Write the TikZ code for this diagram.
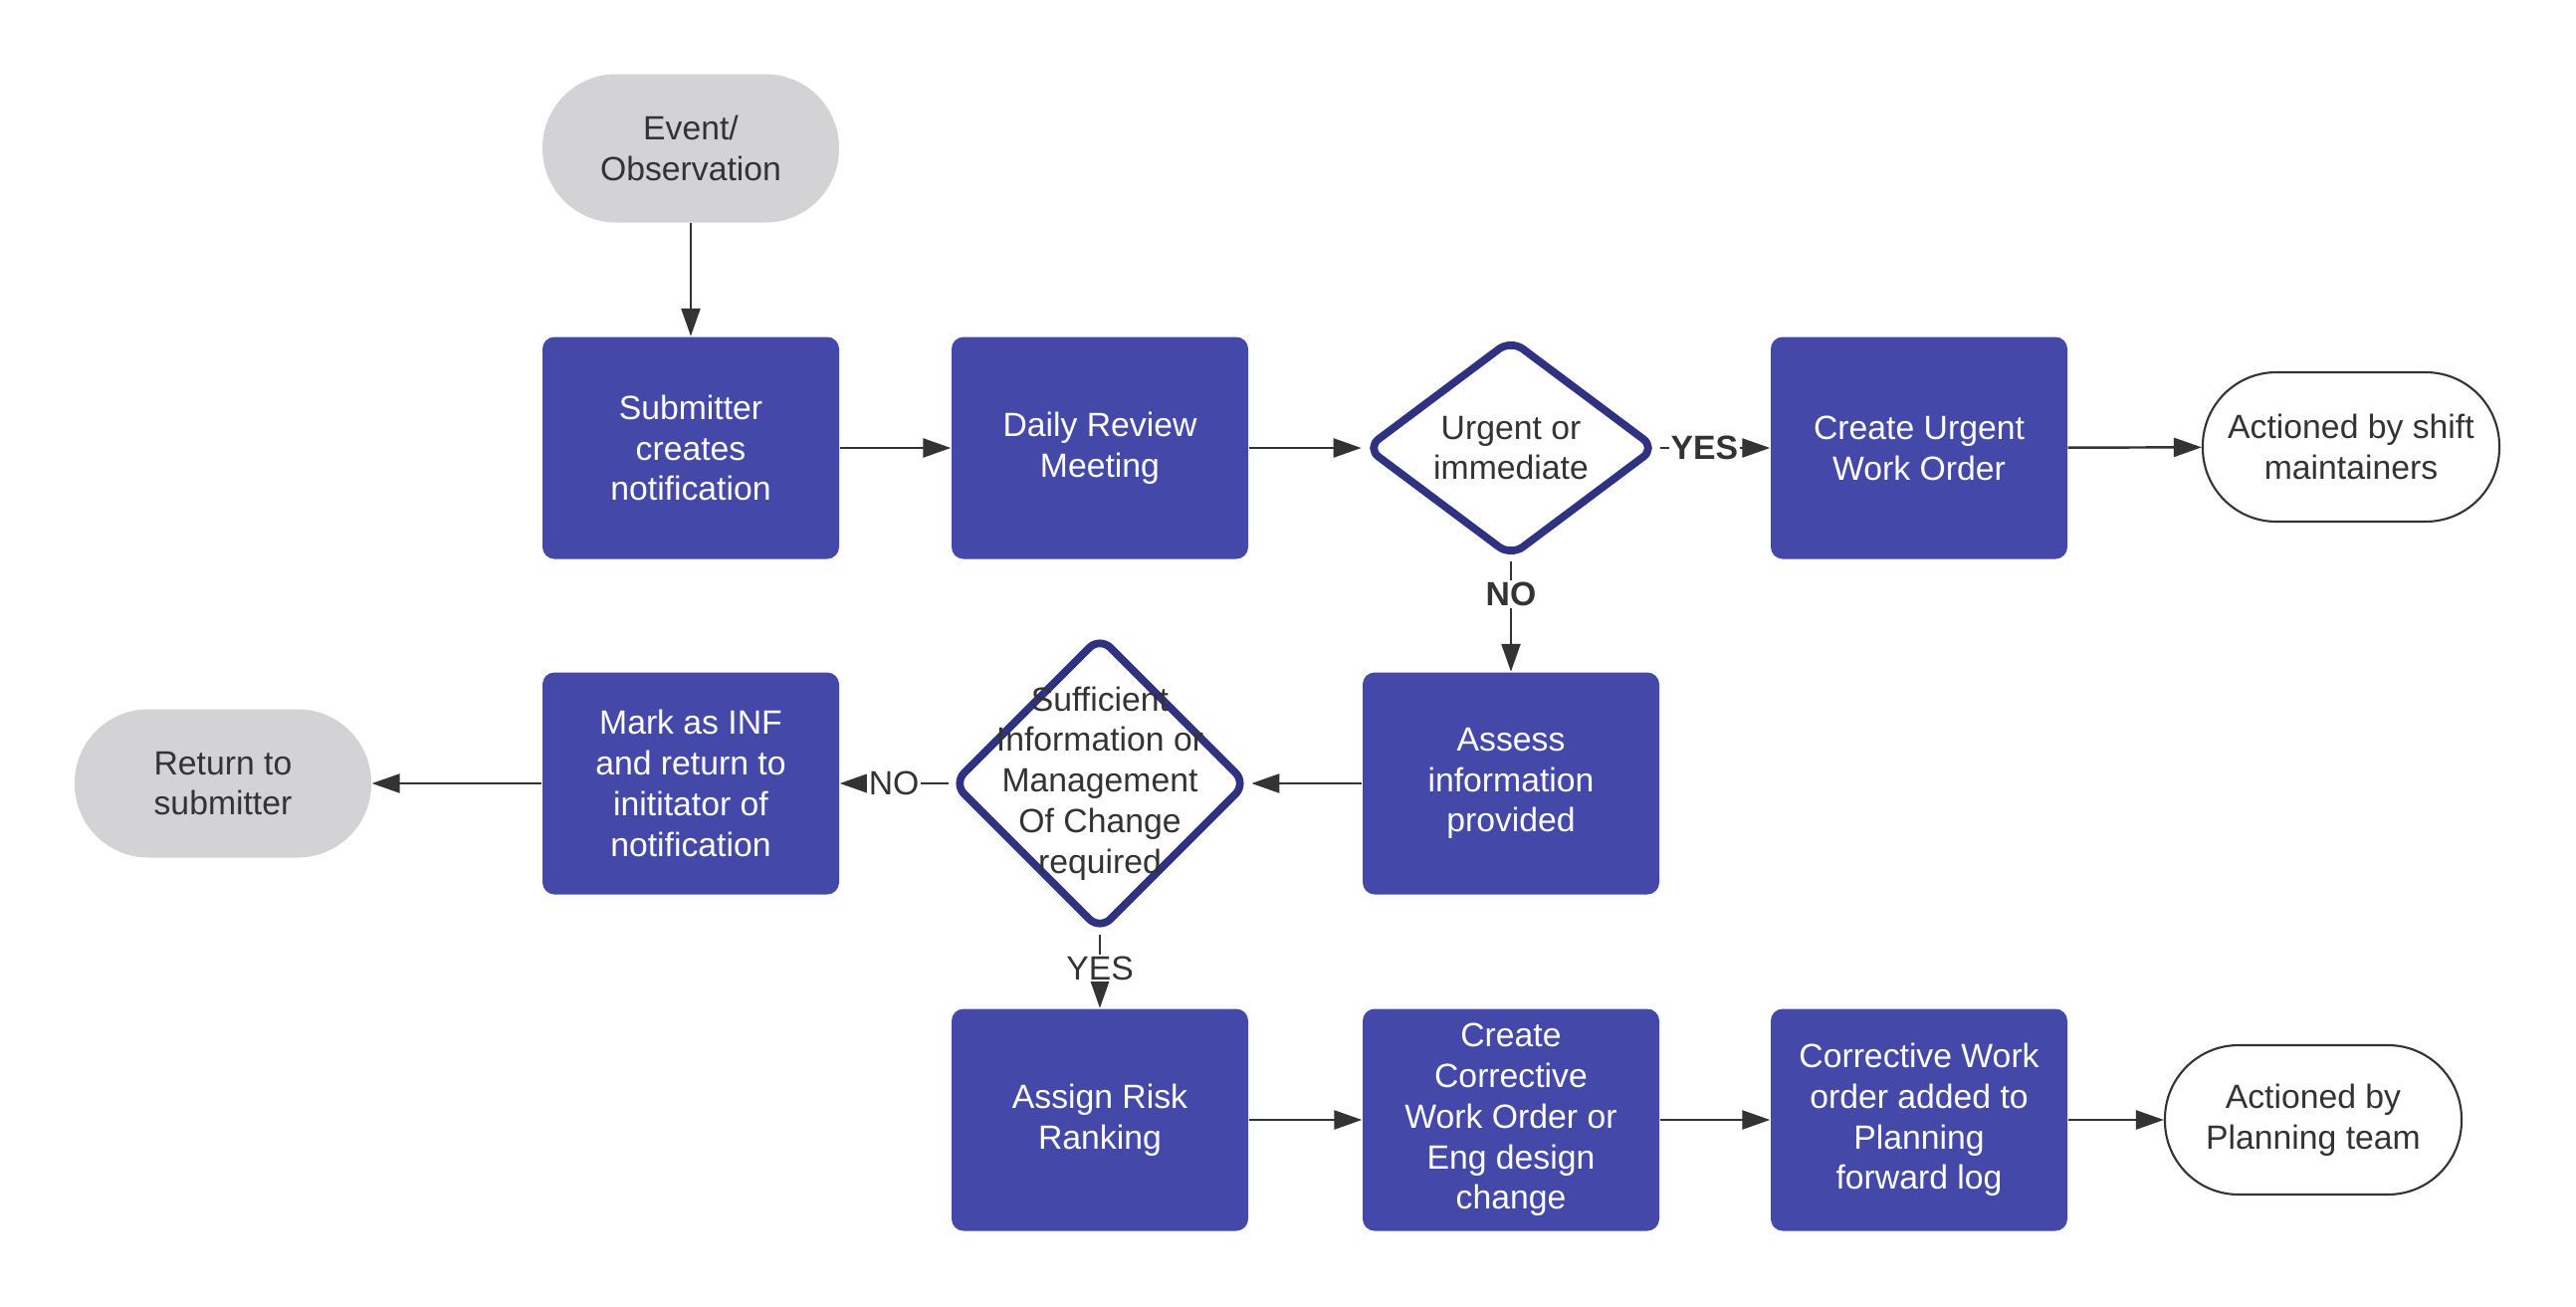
\documentclass[tikz,border=0pt]{standalone}
\usepackage{fontspec}
\setmainfont{Liberation Sans}
\usetikzlibrary{shapes.geometric,arrows.meta}

\definecolor{boxblue}{RGB}{68,72,168}
\definecolor{diaedge}{RGB}{47,50,128}
\definecolor{termgray}{RGB}{211,211,213}
\definecolor{inkgray}{RGB}{51,51,51}

\begin{document}
\begin{tikzpicture}[
    % GLOBAL CFG
    font=\fontsize{9.6}{11.6}\selectfont,
    >={Triangle[length=2.8mm,width=1.9mm]},
    % Styles
    process/.style={% For the blue boxes
        rectangle,
        rounded corners=1.2mm,
        fill=boxblue,
        text=white,
        align=center,
        minimum width=2.98cm,
        minimum height=2.23cm,
        inner sep=1pt,
        },
    decision/.style={% For the diamonds (text goes in a dtext node)
        diamond,
        draw=diaedge,
        line width=2.2pt,
        rounded corners=1.5mm,
        fill=white,
        inner sep=0pt,
        },
    dtext/.style={% Text inside a diamond
        align=center,
        text=inkgray,
        },
    terminal/.style={% Grey start and return boxes
        rectangle,
        rounded corners=7.4mm,
        fill=termgray,
        text=inkgray,
        align=center,
        minimum width=2.98cm,
        minimum height=1.49cm,
        },
    endpoint/.style={% White end boxes
        rectangle,
        rounded corners=7.4mm,
        draw=inkgray,
        line width=.6pt,
        text=inkgray,
        align=center,
        minimum width=2.98cm,
        minimum height=1.5cm,
        },
    flow/.style={% Connectors
        ->,
        draw=inkgray,
        line width=.7pt,
        },
    answer/.style={% YES / NO on the connectors
        fill=white,
        text=inkgray,
        inner sep=.5pt,
        },
    ]

    \useasboundingbox (0,0) rectangle (25.88,-13.13);

%Start drawing the thing...
    % Top row
    \node [terminal] (event) at (6.94,-1.49) {Event/\\Observation};
    \node [process] (submit) at (6.94,-4.50) {Submitter\\creates\\notification};
    \node [process] (daily) at (11.05,-4.50) {Daily Review\\Meeting};
    \node [decision, minimum width=2.93cm, minimum height=2.2cm] (urgent) at (15.18,-4.50) {};
    \node [dtext] at (urgent) {Urgent or\\immediate};
    \node [process] (urgentwo) at (19.28,-4.50) {Create Urgent\\Work Order};
    \node [endpoint] (shift) at (23.62,-4.49) {Actioned by shift\\maintainers};

    % Middle row
    \node [process] (assess) at (15.18,-7.87) {Assess\\information\\provided};
    \node [decision, minimum width=2.97cm, minimum height=2.97cm] (suff) at (11.05,-7.87) {};
    \node [dtext] at (suff) {Sufficient\\Information or\\Management\\Of Change\\required};
    \node [process] (mark) at (6.94,-7.87) {Mark as INF\\and return to\\inititator of\\notification};
    \node [terminal] (ret) at (2.24,-7.87) {Return to\\submitter};

    % Bottom row
    \node [process] (risk) at (11.05,-11.25) {Assign Risk\\Ranking};
    \node [process] (corr) at (15.18,-11.25) {Create\\Corrective\\Work Order or\\Eng design\\change};
    \node [process] (fwd) at (19.28,-11.25) {Corrective Work\\order added to\\Planning\\forward log};
    \node [endpoint] (plan) at (23.24,-11.25) {Actioned by\\Planning team};

% Start connecting all.
    \draw [flow] (event) -- (submit);
    \draw [flow] (submit) -- (daily);
    \draw [flow] (daily) -- (urgent);
    \draw [flow] (urgent) -- node [answer, pos=0.4] {\textbf{YES}} (urgentwo);
    \draw [flow] (urgentwo) -- (shift);
    \draw [flow] (urgent) -- node [answer, pos=0.3] {\textbf{NO}} (assess);
    \draw [flow] (assess) -- (suff);
    \draw [flow] (suff) -- node [answer, pos=0.5] {NO} (mark);
    \draw [flow] (mark) -- (ret);
    \draw [flow] (suff) -- node [answer, pos=0.45] {YES} (risk);
    \draw [flow] (risk) -- (corr);
    \draw [flow] (corr) -- (fwd);
    \draw [flow] (fwd) -- (plan);
\end{tikzpicture}
\end{document}
